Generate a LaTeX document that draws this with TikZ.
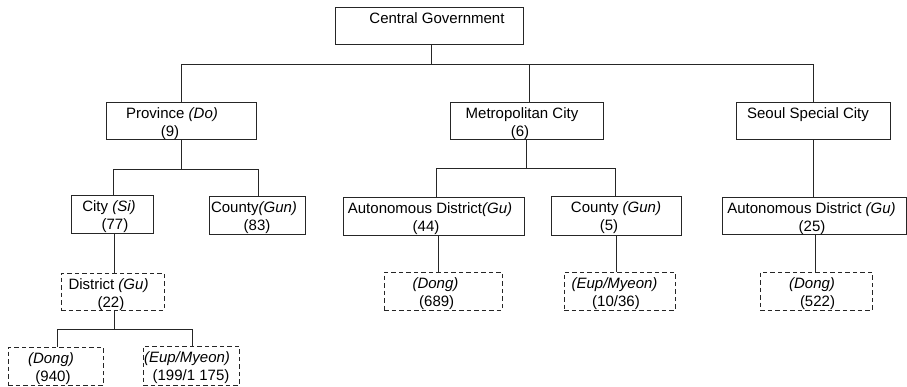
\documentclass[tikz,border=0pt]{standalone}
\usepackage{fontspec}
\setmainfont{Liberation Sans}
\begin{document}
\begin{tikzpicture}[x=1pt,y=-1pt,
  box/.style={draw=black!85,line width=0.9pt,rectangle,inner sep=0pt},
  dbox/.style={box,line width=1pt,dash pattern=on 4.5pt off 3pt},
  txt/.style={inner sep=0pt,anchor=base,font=\fontsize{15}{18}\selectfont},
  conn/.style={draw=black!85,line width=0.9pt}]
\useasboundingbox (0,0) rectangle (907,386);
% boxes
\node[box,minimum width=188pt,minimum height=37pt] (cg) at (429,25.5) {};
\node[box,minimum width=150pt,minimum height=37pt] (prov) at (181,120.5) {};
\node[box,minimum width=153pt,minimum height=37pt] (metro) at (526.5,120.5) {};
\node[box,minimum width=154pt,minimum height=37pt] (seoul) at (813,120.5) {};
\node[box,minimum width=82pt,minimum height=38pt] (city) at (112,214) {};
\node[box,minimum width=96pt,minimum height=38pt] (county1) at (257,215) {};
\node[box,minimum width=181pt,minimum height=38pt] (ad) at (433.5,216) {};
\node[box,minimum width=130pt,minimum height=39pt] (county2) at (616,215.5) {};
\node[box,minimum width=184pt,minimum height=37pt] (sad) at (814,215.5) {};
\node[dbox,minimum width=103pt,minimum height=37pt] (dist) at (112.5,291.5) {};
\node[dbox,minimum width=95pt,minimum height=38pt] (d940) at (55.5,366) {};
\node[dbox,minimum width=96pt,minimum height=39pt] (e1175) at (191,365.5) {};
\node[dbox,minimum width=118pt,minimum height=38pt] (d689) at (443,291) {};
\node[dbox,minimum width=111pt,minimum height=38pt] (e1036) at (619.5,291) {};
\node[dbox,minimum width=112pt,minimum height=38pt] (d522) at (816,291) {};
% texts
\node[txt] (cgt) at (437,23) {Central Government};
\node[txt] (provt1) at (172,118) {Province \textit{(Do)}};
\node[txt] (provt2) at (170,136.5) {(9)};
\node[txt] (metrot1) at (522,118) {Metropolitan City};
\node[txt] (metrot2) at (520,136.5) {(6)};
\node[txt] (seoult) at (808,118) {Seoul Special City};
\node[txt] (cityt1) at (109,211) {City \textit{(Si)}};
\node[txt] (cityt2) at (115,229.5) {(77)};
\node[txt] (county1t1) at (254,212) {County\textit{(Gun)}};
\node[txt] (county1t2) at (257,230.5) {(83)};
\node[txt] (adt1) at (430,213) {Autonomous District\textit{(Gu)}};
\node[txt] (adt2) at (426,231.5) {(44)};
\node[txt] (county2t1) at (616,212) {County \textit{(Gun)}};
\node[txt] (county2t2) at (609,230.5) {(5)};
\node[txt] (sadt1) at (811.5,213) {Autonomous District \textit{(Gu)}};
\node[txt] (sadt2) at (812,231.5) {(25)};
\node[txt] (distt1) at (108.5,289) {District \textit{(Gu)}};
\node[txt] (distt2) at (111,307.5) {(22)};
\node[txt] (d940t1) at (51,363) {\textit{(Dong)}};
\node[txt] (d940t2) at (53,381.5) {(940)};
\node[txt] (e1175t1) at (187,362) {\textit{(Eup/Myeon)}};
\node[txt] (e1175t2) at (191,380.5) {(199/1 175)};
\node[txt] (d689t1) at (435.5,288) {\textit{(Dong)}};
\node[txt] (d689t2) at (436.7,306.5) {(689)};
\node[txt] (e1036t1) at (614.5,288) {\textit{(Eup/Myeon)}};
\node[txt] (e1036t2) at (616,306.5) {(10/36)};
\node[txt] (d522t1) at (812,288) {\textit{(Dong)}};
\node[txt] (d522t2) at (817.5,306.5) {(522)};
% connectors
\coordinate (bus0) at (0,64);
\coordinate (bus1) at (0,169);
\coordinate (bus2) at (0,168);
\coordinate (bus3) at (0,329);
\draw[conn] ([xshift=2pt]cg.south) -- ([xshift=2pt]cg.south |- bus0);
\draw[conn] (prov.north) |- (seoul.north |- bus0) -- (seoul.north);
\draw[conn] ([xshift=2.5pt]metro.north) -- ([xshift=2.5pt]metro.north |- bus0);
\draw[conn] (prov.south) -- (prov.south |- bus1);
\draw[conn] ([xshift=1pt]city.north) |- ([xshift=1pt]county1.north |- bus1) -- ([xshift=1pt]county1.north);
\draw[conn] ([xshift=2pt]city.south) -- ([xshift=2pt]city.south |- dist.north);
\draw[conn] ([xshift=2pt]dist.south) -- ([xshift=2pt]dist.south |- bus3);
\draw[conn] ([xshift=1.5pt]d940.north) |- ([xshift=1pt]e1175.north |- bus3) -- ([xshift=1pt]e1175.north);
\draw[conn] (metro.south) -- (metro.south |- bus2);
\draw[conn] ([xshift=2.5pt]ad.north) |- ([xshift=-1pt]county2.north |- bus2) -- ([xshift=-1pt]county2.north);
\draw[conn] ([xshift=4.5pt]ad.south) -- ([xshift=4.5pt]ad.south |- d689.north);
\draw[conn] (county2.south) -- (county2.south |- e1036.north);
\draw[conn] (seoul.south) -- (seoul.south |- sad.north);
\draw[conn] ([xshift=1pt]sad.south) -- ([xshift=1pt]sad.south |- d522.north);
\end{tikzpicture}
\end{document}
